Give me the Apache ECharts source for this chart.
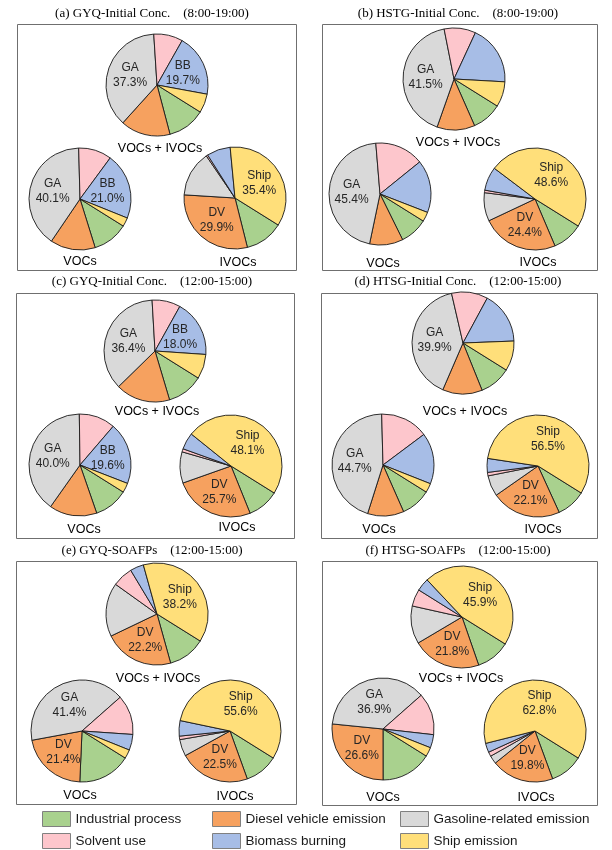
<!DOCTYPE html>
<html>
<head>
<meta charset="utf-8">
<script src="https://cdn.jsdelivr.net/npm/echarts@6/dist/echarts.min.js"></script>
<style>
  html, body { margin: 0; padding: 0; background: #fff; }
  #chart { width: 612px; height: 850px; }
</style>
</head>
<body>
<div id="chart"></div>
<script>
// source categories, in the order the slices run clockwise
const categories = ['Industrial process', 'Diesel vehicle emission', 'Gasoline-related emission',
  'Solvent use', 'Biomass burning', 'Ship emission']
const shortNames = ['IP', 'DV', 'GA', 'SU', 'BB', 'Ship']
const colors = ['#a9d18e', '#f6a15f', '#d9d9d9', '#fdc6cc', '#a7bde6', '#ffdf7a']

const panelTitles = [
  '(a) GYQ-Initial Conc.    (8:00-19:00)',
  '(b) HSTG-Initial Conc.    (8:00-19:00)',
  '(c) GYQ-Initial Conc.    (12:00-15:00)',
  '(d) HTSG-Initial Conc.    (12:00-15:00)',
  '(e) GYQ-SOAFPs    (12:00-15:00)',
  '(f) HTSG-SOAFPs    (12:00-15:00)'
]
const pieNames = ['VOCs + IVOCs', 'VOCs', 'IVOCs']

// shares (%), order: IP, DV, GA, SU, BB, Ship
const aAll = [12.0, 15.8, 37.3, 9.2, 19.7, 6.0]
const aVOCs = [11.3, 14.3, 40.1, 10.5, 21.0, 2.8]
const aIVOCs = [12.2, 29.9, 14.5, 0.5, 7.5, 35.4]
const bAll = [9.5, 12.0, 41.5, 10.0, 19.0, 8.0]
const bVOCs = [8.8, 10.6, 45.4, 15.5, 16.7, 3.0]
const bIVOCs = [9.7, 24.4, 9.0, 0.8, 7.5, 48.6]
const cAll = [11.5, 17.3, 36.4, 9.0, 18.0, 7.8]
const cVOCs = [10.8, 15.1, 40.0, 11.5, 19.6, 3.0]
const cIVOCs = [10.0, 25.7, 9.9, 1.0, 5.3, 48.1]
const dAll = [10.0, 12.6, 39.9, 11.5, 16.5, 9.5]
const dVOCs = [9.5, 11.5, 44.7, 15.2, 16.2, 2.9]
const dIVOCs = [9.3, 22.1, 6.6, 1.1, 4.4, 56.5]
const eAll = [11.8, 22.2, 17.0, 6.5, 4.3, 38.2]
const eVOCs = [16.8, 21.4, 41.4, 12.6, 5.0, 2.8]
const eIVOCs = [10.6, 22.5, 5.3, 1.1, 4.9, 55.6]
const fAll = [10.8, 21.8, 12.0, 5.4, 4.1, 45.9]
const fVOCs = [16.1, 26.6, 36.9, 13.3, 4.2, 2.9]
const fIVOCs = [10.5, 19.8, 2.6, 1.4, 2.9, 62.8]

// slices that carry a label in each pie
const aLabels = [['GA', 'BB'], ['GA', 'BB'], ['DV', 'Ship']]
const bLabels = [['GA'], ['GA'], ['DV', 'Ship']]
const cLabels = [['GA', 'BB'], ['GA', 'BB'], ['DV', 'Ship']]
const dLabels = [['GA'], ['GA'], ['DV', 'Ship']]
const eLabels = [['DV', 'Ship'], ['GA', 'DV'], ['DV', 'Ship']]
const fLabels = [['DV', 'Ship'], ['GA', 'DV'], ['DV', 'Ship']]

const panelData = [
  [aAll, aVOCs, aIVOCs], [bAll, bVOCs, bIVOCs], [cAll, cVOCs, cIVOCs],
  [dAll, dVOCs, dIVOCs], [eAll, eVOCs, eIVOCs], [fAll, fVOCs, fIVOCs]
]
const panelLabels = [aLabels, bLabels, cLabels, dLabels, eLabels, fLabels]

// page layout (px): frame, title, pie centres and captions for each panel
const layout = [
  { box: [17, 24, 296, 270], title: [152, 14],
    pies: [[157, 85], [80, 199], [235, 198]], caps: [[160, 149], [80, 262], [238, 263]] },
  { box: [322, 24, 597, 270], title: [458, 14],
    pies: [[454, 79], [380, 194], [535, 199]], caps: [[458, 143], [383, 264], [538, 263]] },
  { box: [16, 293, 294, 538], title: [152, 282],
    pies: [[155, 351], [80, 465], [231, 466]], caps: [[157, 412], [84, 530], [237, 528]] },
  { box: [321, 293, 597, 538], title: [458, 282],
    pies: [[463, 343], [383, 465], [538, 466]], caps: [[465, 412], [379, 530], [543, 530]] },
  { box: [16, 561, 296, 804], title: [152, 551],
    pies: [[157, 614], [82, 731], [230, 731]], caps: [[158, 679], [80, 796], [235, 797]] },
  { box: [322, 561, 597, 805], title: [458, 551],
    pies: [[462, 617], [383, 729], [535, 731]], caps: [[461, 679], [383, 798], [536, 798]] }
]
const radius = 51

const chart = echarts.init(document.getElementById('chart'))

const series = []
const graphics = []
layout.forEach((p, i) => {
  graphics.push({
    type: 'rect',
    shape: { x: p.box[0] + 0.5, y: p.box[1] + 0.5, width: p.box[2] - p.box[0], height: p.box[3] - p.box[1] },
    style: { fill: 'none', stroke: '#6f6f6f', lineWidth: 1 }
  })
  graphics.push({
    type: 'text', x: p.title[0], y: p.title[1],
    style: { text: panelTitles[i], font: '13px "Liberation Serif"', fill: '#000', align: 'center', verticalAlign: 'middle' }
  })
  p.pies.forEach((c, j) => {
    const values = panelData[i][j]
    const shown = panelLabels[i][j]
    series.push({
      type: 'pie',
      center: c,
      radius: radius,
      startAngle: -32,
      clockwise: true,
      avoidLabelOverlap: false,
      itemStyle: { borderColor: '#1a1a1a', borderWidth: 0.9 },
      label: {
        position: 'inside',
        fontFamily: 'Liberation Sans',
        fontSize: 12,
        lineHeight: 15,
        color: '#262626',
        formatter: (d) => shortNames[d.dataIndex] + '\n' + d.value.toFixed(1) + '%'
      },
      labelLine: { show: false },
      emphasis: { disabled: true },
      data: values.map((v, k) => ({
        name: categories[k],
        value: v,
        label: { show: shown.indexOf(shortNames[k]) >= 0 }
      }))
    })
    graphics.push({
      type: 'text', x: p.caps[j][0], y: p.caps[j][1],
      style: { text: pieNames[j], font: '12.5px "Liberation Sans"', fill: '#000', align: 'center', verticalAlign: 'middle' }
    })
  })
})

// legend: 3 columns x 2 rows
const legendCols = [42, 212, 400]
const legendRows = [811, 833]
const legend = categories.map((name, k) => ({
  data: [name],
  left: legendCols[k % 3],
  top: legendRows[Math.floor(k / 3)],
  padding: 0,
  itemWidth: 28,
  itemHeight: 15,
  icon: 'rect',
  itemStyle: { borderColor: '#808080', borderWidth: 1 },
  textStyle: { fontFamily: 'Liberation Sans', fontSize: 13.5, color: '#1a1a1a' },
  selectedMode: false
}))

chart.setOption({
  animation: false,
  color: colors,
  legend: legend,
  graphic: graphics,
  series: series
})
</script>
</body>
</html>
